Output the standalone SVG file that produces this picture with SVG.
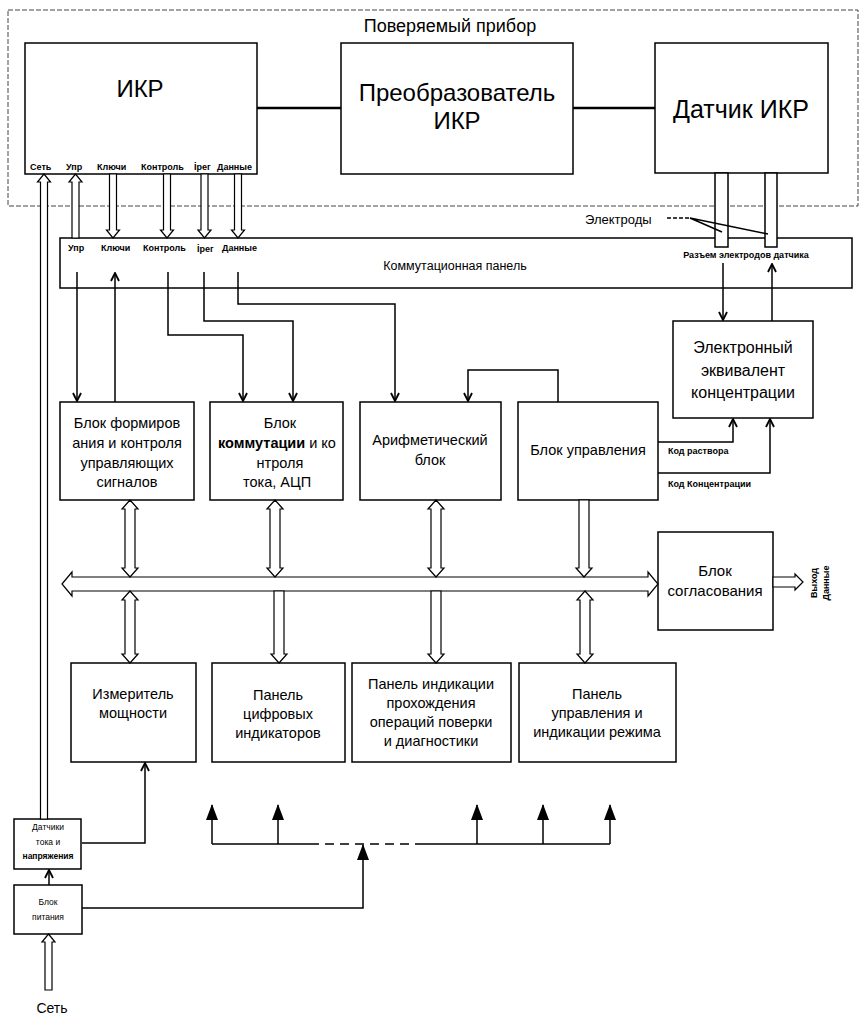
<svg xmlns="http://www.w3.org/2000/svg" width="864" height="1017" viewBox="0 0 864 1017">
<style>
text{font-family:"Liberation Sans",Arial,sans-serif;fill:#000}
.box{fill:#fff;stroke:#000;stroke-width:1.5}
.ln{fill:none;stroke:#000;stroke-width:1.5}
.th{fill:none;stroke:#000;stroke-width:2.5}
.ha{fill:#fff;stroke:#000;stroke-width:1.2;stroke-linejoin:miter}
.sm{font-size:9px;font-weight:bold}
.md{font-size:14.5px;text-anchor:middle}
.c{text-anchor:middle}
</style>
<defs>
<marker id="chev" viewBox="0 0 10 10" refX="9" refY="5" markerWidth="10" markerHeight="10" markerUnits="userSpaceOnUse" orient="auto">
<path d="M1,1 L9,5 L1,9" fill="none" stroke="#000" stroke-width="1.8"/>
</marker>
<marker id="tri" viewBox="0 0 16 12" refX="15" refY="6" markerWidth="16" markerHeight="12" markerUnits="userSpaceOnUse" orient="auto">
<path d="M0,0 L16,6 L0,12 Z" fill="#000"/>
</marker>
</defs>

<g id="device-under-test">
<rect x="8" y="10" width="850" height="196" fill="none" stroke="#444" stroke-width="1" stroke-dasharray="5 2"/>
<text x="450" y="32" class="c" font-size="18">Поверяемый прибор</text>
</g>

<g id="ikr">
<rect class="box" x="25" y="43" width="232" height="131"/>
<text x="140" y="97" class="c" font-size="24">ИКР</text>
<text class="sm" x="30" y="170">Сеть</text>
<text class="sm" x="66" y="170">Упр</text>
<text class="sm" x="97" y="170">Ключи</text>
<text class="sm" x="141" y="170">Контроль</text>
<text class="sm" x="194" y="170">İрег</text>
<text class="sm" x="217" y="170">Данные</text>
</g>

<g id="converter">
<rect class="box" x="341" y="43" width="232" height="131"/>
<text x="457" y="101" class="c" font-size="24">Преобразователь</text>
<text x="457" y="129" class="c" font-size="24">ИКР</text>
</g>

<g id="sensor">
<rect class="box" x="655" y="43" width="173" height="130"/>
<text x="741" y="118" class="c" font-size="25">Датчик ИКР</text>
</g>

<g id="patch-panel">
<rect class="box" x="60" y="238" width="792" height="50"/>
<text x="455" y="270" class="c" font-size="12.5">Коммутационная панель</text>
<text class="sm" x="68" y="251" font-size="9.5">Упр</text>
<text class="sm" x="101" y="251" font-size="9.5">Ключи</text>
<text class="sm" x="143" y="251" font-size="9.5">Контроль</text>
<text class="sm" x="197" y="252" font-size="9.5">İрег</text>
<text class="sm" x="222" y="251" font-size="9.5">Данные</text>
<text class="sm" x="746" y="258" text-anchor="middle" font-size="9.5">Разъем электродов датчика</text>
</g>

<g id="electrodes">
<rect class="box" x="715" y="173" width="13" height="74"/>
<rect class="box" x="765" y="173" width="12" height="74"/>
<text x="585" y="224" font-size="13">Электроды</text>
</g>

<g id="block-signals">
<rect class="box" x="60" y="402" width="134" height="98"/>
<text class="md" x="127" y="428">Блок формиров</text>
<text class="md" x="127" y="448">ания и контроля</text>
<text class="md" x="127" y="468">управляющих</text>
<text class="md" x="127" y="487">сигналов</text>
</g>

<g id="block-switching">
<rect class="box" x="210" y="402" width="133" height="98"/>
<text class="md" x="280" y="428">Блок</text>
<text class="md" x="277" y="448"><tspan font-weight="bold">коммутации</tspan> и ко</text>
<text class="md" x="280" y="468">нтроля</text>
<text class="md" x="277" y="487">тока, АЦП</text>
</g>

<g id="block-arithmetic">
<rect class="box" x="360" y="402" width="141" height="98"/>
<text class="md" x="430" y="445">Арифметический</text>
<text class="md" x="430" y="465">блок</text>
</g>

<g id="block-control">
<rect class="box" x="518" y="402" width="140" height="98"/>
<text class="md" x="588" y="455">Блок управления</text>
</g>

<g id="electronic-equivalent">
<rect class="box" x="673" y="321" width="140" height="97"/>
<text class="c" x="743" y="353" font-size="16">Электронный</text>
<text class="c" x="743" y="376" font-size="16">эквивалент</text>
<text class="c" x="743" y="398" font-size="16">концентрации</text>
</g>

<g id="code-labels">
<text class="sm" x="668" y="454" font-size="8.5">Код раствора</text>
<text class="sm" x="668" y="487" font-size="8.5">Код Концентрации</text>
</g>

<g id="block-matching">
<rect class="box" x="658" y="532" width="115" height="98"/>
<text class="c" x="715" y="576" font-size="15">Блок</text>
<text class="c" x="715" y="596" font-size="15">согласования</text>
<text class="sm" font-size="8.5" text-anchor="middle" transform="translate(817,583) rotate(-90)">Выход</text>
<text class="sm" font-size="8.5" text-anchor="middle" transform="translate(829,583) rotate(-90)">Данные</text>
</g>

<g id="power-meter">
<rect class="box" x="71" y="663" width="125" height="99"/>
<text class="md" x="133" y="699" font-size="15">Измеритель</text>
<text class="md" x="133" y="718" font-size="15">мощности</text>
</g>

<g id="digital-panel">
<rect class="box" x="212" y="663" width="133" height="99"/>
<text class="md" x="278" y="700" font-size="15">Панель</text>
<text class="md" x="278" y="719" font-size="15">цифровых</text>
<text class="md" x="278" y="738" font-size="15">индикаторов</text>
</g>

<g id="progress-panel">
<rect class="box" x="352" y="663" width="159" height="99"/>
<text class="md" x="431" y="689" font-size="15">Панель индикации</text>
<text class="md" x="431" y="708" font-size="15">прохождения</text>
<text class="md" x="431" y="727" font-size="15">операций поверки</text>
<text class="md" x="431" y="746" font-size="15">и диагностики</text>
</g>

<g id="mode-panel">
<rect class="box" x="519" y="663" width="157" height="99"/>
<text class="md" x="597" y="699" font-size="15">Панель</text>
<text class="md" x="597" y="718" font-size="15">управления и</text>
<text class="md" x="597" y="737" font-size="15">индикации режима</text>
</g>

<g id="current-sensors">
<rect class="box" x="14" y="819" width="67" height="50"/>
<text class="c" x="48" y="830" font-size="8.5">Датчики</text>
<text class="c" x="48" y="845" font-size="8.5">тока и</text>
<text class="c" x="48" y="859" font-size="8.5" font-weight="bold">напряжения</text>
</g>

<g id="power-supply">
<rect class="box" x="14" y="885" width="68" height="49"/>
<text class="c" x="48" y="905" font-size="8.5">Блок</text>
<text class="c" x="48" y="920" font-size="8.5">питания</text>
</g>

<g id="mains-label">
<text class="c" x="52" y="1013" font-size="14">Сеть</text>
</g>

<g id="connectors">
<line class="th" x1="257" y1="108" x2="341" y2="108"/>
<line class="th" x1="573" y1="108" x2="655" y2="108"/>
<path class="ha" d="M75.5,174 L82,182 L79,182 L79,238 L72,238 L72,182 L69,182 Z"/>
<path class="ha" d="M109.5,174 L116.5,174 L116.5,230 L119.5,230 L113,238 L106.5,230 L109.5,230 Z"/>
<path class="ha" d="M163.5,174 L170.5,174 L170.5,230 L173.5,230 L167,238 L160.5,230 L163.5,230 Z"/>
<path class="ha" d="M201,174 L208,174 L208,230 L211,230 L204.5,238 L198,230 L201,230 Z"/>
<path class="ha" d="M234.5,174 L241.5,174 L241.5,230 L244.5,230 L238,238 L231.5,230 L234.5,230 Z"/>
<path class="ha" d="M44,174 L50.5,182 L47.5,182 L47.5,819 L40.5,819 L40.5,182 L37.5,182 Z"/>
<path class="ln" d="M77,272 L77,401" marker-end="url(#chev)"/>
<path class="ln" d="M115,402 L115,273" marker-end="url(#chev)"/>
<path class="ln" d="M168,272 L168,335 L243,335 L243,401" marker-end="url(#chev)"/>
<path class="ln" d="M204,272 L204,321 L293,321 L293,401" marker-end="url(#chev)"/>
<path class="ln" d="M238,272 L238,304 L395,304 L395,401" marker-end="url(#chev)"/>
<path class="ln" d="M723,263 L723,320" marker-end="url(#chev)"/>
<path class="ln" d="M772,321 L772,264" marker-end="url(#chev)"/>
<path class="ln" d="M558,402 L558,370 L468,370 L468,401" marker-end="url(#chev)"/>
<path class="ln" d="M658,442 L733,442 L733,419" marker-end="url(#chev)"/>
<path class="ln" d="M658,473 L770,473 L770,419" marker-end="url(#chev)"/>
<path class="ha" d="M62,584 L72,572 L72,577 L648,577 L648,572 L658,584 L648,596 L648,591 L72,591 L72,596 Z"/>
<path class="ha" d="M130,500 L138,509 L135,509 L135,568 L138,568 L130,577 L122,568 L125,568 L125,509 L122,509 Z"/>
<path class="ha" d="M275,500 L283,509 L280,509 L280,568 L283,568 L275,577 L267,568 L270,568 L270,509 L267,509 Z"/>
<path class="ha" d="M436,500 L444,509 L441,509 L441,568 L444,568 L436,577 L428,568 L431,568 L431,509 L428,509 Z"/>
<path class="ha" d="M579,500 L589,500 L589,568 L592,568 L584,577 L576,568 L579,568 Z"/>
<path class="ha" d="M130,591 L138,600 L135,600 L135,654 L138,654 L130,663 L122,654 L125,654 L125,600 L122,600 Z"/>
<path class="ha" d="M274,591 L284,591 L284,654 L287,654 L279,663 L271,654 L274,654 Z"/>
<path class="ha" d="M431,591 L441,591 L441,654 L444,654 L436,663 L428,654 L431,654 Z"/>
<path class="ha" d="M585,591 L593,600 L590,600 L590,654 L593,654 L585,663 L577,654 L580,654 L580,600 L577,600 Z"/>
<path class="ha" d="M773,577 L795,577 L795,574 L803,582 L795,590 L795,587 L773,587 Z"/>
<path class="ln" stroke-width="1" d="M667,218 L690,218" stroke-dasharray="4 2"/>
<path class="ln" stroke-width="1" d="M690,218 L722,232 M690,218 L768,234"/>
<path class="ln" d="M82,843 L145,843 L145,763" marker-end="url(#chev)"/>
<path class="ln" stroke-width="2" d="M49,885 L49,870" marker-end="url(#chev)"/>
<path class="ha" d="M48.5,934 L55,942 L52,942 L52,990 L45,990 L45,942 L42,942 Z"/>
<path class="ln" d="M82,908 L363,908 L363,845" marker-end="url(#tri)"/>
<path class="ln" stroke-width="2" d="M212,844 L310,844 M417,844 L610,844"/>
<path class="ln" stroke-width="2" d="M310,844 L417,844" stroke-dasharray="9 6"/>
<path class="ln" stroke-width="2" d="M212,844 L212,805" marker-end="url(#tri)"/>
<path class="ln" stroke-width="2" d="M278,844 L278,805" marker-end="url(#tri)"/>
<path class="ln" stroke-width="2" d="M477,844 L477,805" marker-end="url(#tri)"/>
<path class="ln" stroke-width="2" d="M543,844 L543,805" marker-end="url(#tri)"/>
<path class="ln" stroke-width="2" d="M610,844 L610,805" marker-end="url(#tri)"/>
</g>
</svg>
